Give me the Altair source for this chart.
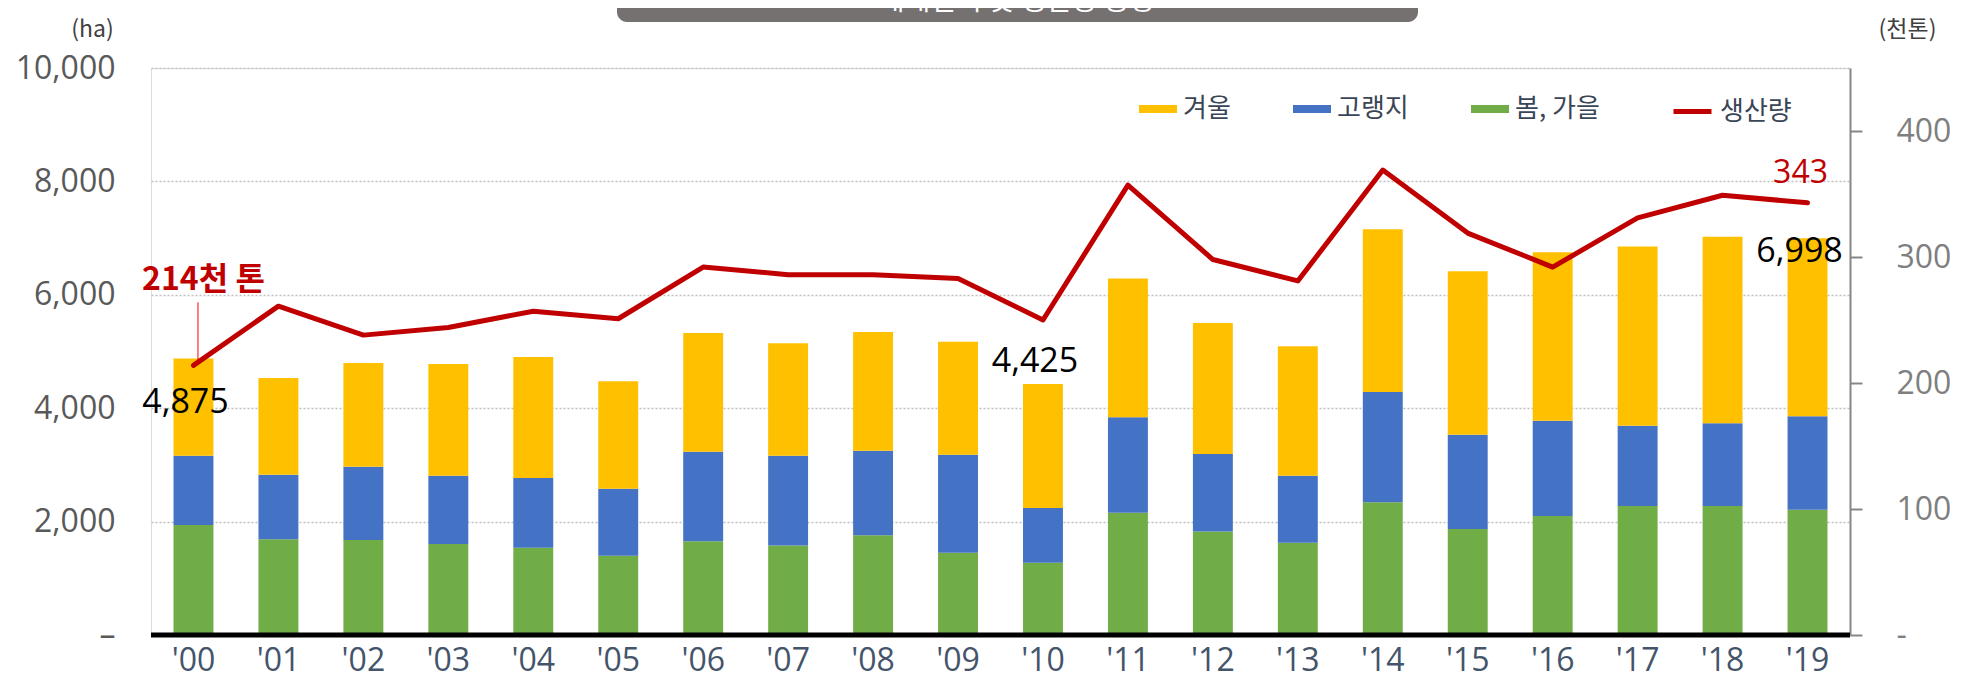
import altair as alt
import pandas as pd

# ---------------- data ----------------
years = ["'00", "'01", "'02", "'03", "'04", "'05", "'06", "'07", "'08", "'09",
         "'10", "'11", "'12", "'13", "'14", "'15", "'16", "'17", "'18", "'19"]
spring_fall = [1941, 1689, 1677, 1607, 1537, 1396, 1654, 1578, 1760, 1449,
               1273, 2158, 1824, 1625, 2340, 1871, 2100, 2276, 2276, 2211]
highland = [1220, 1138, 1291, 1202, 1231, 1185, 1578, 1583, 1489, 1730,
            967, 1684, 1367, 1184, 1947, 1660, 1677, 1413, 1460, 1648]
winter = [1714, 1707, 1830, 1971, 2135, 1894, 2093, 1983, 2094, 1994,
          2185, 2445, 2310, 2282, 2868, 2885, 2974, 3161, 3290, 3139]
production = [214, 261, 238, 244, 257, 251, 292, 286, 286, 283,
              250, 357, 298, 281, 369, 319, 292, 331, 349, 343]

series_names = ["겨울", "고랭지", "봄, 가을"]
series_colors = ["#FFC000", "#4472C4", "#70AD47"]
line_name = "생산량"
title_text = "재배면적 및 생산량 동향"

rows = []
for i, yr in enumerate(years):
    rows.append({"year": yr, "type": "봄, 가을", "area": spring_fall[i], "ord": 0})
    rows.append({"year": yr, "type": "고랭지", "area": highland[i], "ord": 1})
    rows.append({"year": yr, "type": "겨울", "area": winter[i], "ord": 2})
bars_df = pd.DataFrame(rows)
totals = [a + b + c for a, b, c in zip(spring_fall, highland, winter)]
tot_df = pd.DataFrame({"year": years, "total": totals})
line_df = pd.DataFrame({"year": years, "prod": production, "series": line_name})
one = pd.DataFrame({"k": [0]})

KR = "Noto Sans CJK KR"
NUM = "Open Sans"

left_y = alt.Scale(domain=[0, 10000])
right_y = alt.Scale(domain=[0, 450])

x_enc = alt.X(
    "year:N", sort=years, title=None,
    scale=alt.Scale(paddingInner=0.53, paddingOuter=0.265),
    axis=alt.Axis(labelFont=NUM, labelFontSize=32, labelColor="#44546A", labelPadding=10,
                  labelAngle=0, domain=False, ticks=False, grid=False),
)

left_axis = alt.Axis(
    values=[0, 2000, 4000, 6000, 8000, 10000],
    labelExpr="datum.value == 0 ? '–' : format(datum.value, ',')",
    labelFont=NUM, labelFontSize=32, labelColor="#595959", labelPadding=36,
    domain=False, ticks=False, grid=True, gridDash=[2, 2],
    gridColor="#BFBFBF", gridWidth=1.5,
    title="(ha)", titleAngle=0, titleX=-59, titleY=-39,
    titleAlign="center", titleBaseline="middle", titleFont=KR,
    titleFontSize=23, titleFontWeight="normal", titleColor="#404040",
)

right_axis = alt.Axis(
    orient="right", values=[0, 100, 200, 300, 400],
    labelExpr="datum.value == 0 ? '-' : format(datum.value, ',')",
    labelFont=NUM, labelFontSize=32, labelColor="#7F7F7F", labelPadding=34,
    domain=True, domainColor="#868686", domainWidth=2,
    ticks=True, tickColor="#868686", tickWidth=2, tickSize=12, grid=False,
    title="(천톤)", titleAngle=0, titleX=57, titleY=-39,
    titleAlign="center", titleBaseline="middle", titleFont=KR,
    titleFontSize=23, titleFontWeight="normal", titleColor="#404040",
)

# ---------------- left (area) group ----------------
title_box = alt.Chart(one).mark_rect(color="#767171", cornerRadius=10).encode(
    x=alt.value(466), x2=alt.value(1267), y=alt.value(-100), y2=alt.value(-46)
)
title_lbl = alt.Chart(one).mark_text(
    text=title_text, font=KR, fontSize=28, color="white", align="center", baseline="alphabetic"
).encode(x=alt.value(866), y=alt.value(-58))

bars = alt.Chart(bars_df).mark_bar().encode(
    x=x_enc,
    y=alt.Y("area:Q", stack="zero", scale=left_y, axis=left_axis),
    color=alt.Color("type:N", scale=alt.Scale(domain=series_names, range=series_colors),
                    legend=alt.Legend(orient="none", legendX=988, legendY=22, direction="horizontal",
                                      title=None, symbolType="M-1,-0.21H1V0.21H-1Z", symbolSize=1444,
                                      symbolStrokeWidth=0, labelFont=KR, labelFontSize=26,
                                      labelColor="#3A4556", labelOffset=6, columnPadding=62, padding=0)),
    order=alt.Order("ord:Q", sort="ascending"),
)

baseline = alt.Chart(one).mark_rule(color="black", strokeWidth=5).encode(
    y=alt.Y(datum=0, scale=left_y, axis=left_axis)
)


def total_label(yr, dx, dy):
    return alt.Chart(tot_df).transform_filter(alt.datum.year == yr).mark_text(
        font=NUM, fontSize=34, color="black", dx=dx, dy=dy, align="center", baseline="alphabetic"
    ).encode(
        x=x_enc,
        y=alt.Y("total:Q", scale=left_y, axis=left_axis),
        text=alt.Text("total:Q", format=","),
    )


left = alt.layer(
    title_box, title_lbl, bars, baseline,
    total_label("'00", -8, 54), total_label("'10", -8, -12), total_label("'19", -8, 24),
)

# ---------------- right (production) group ----------------
line = alt.Chart(line_df).mark_line(strokeWidth=5, strokeCap="round", strokeJoin="round").encode(
    x=x_enc,
    y=alt.Y("prod:Q", scale=right_y, axis=right_axis),
    stroke=alt.Stroke("series:N", scale=alt.Scale(domain=[line_name], range=["#C00000"]),
                      legend=alt.Legend(orient="none", legendX=1520, legendY=22, title=None,
                                        symbolType="stroke", symbolSize=1444, symbolStrokeWidth=5,
                                        labelFont=KR, labelFontSize=26, labelColor="#3A4556",
                                        labelOffset=6, padding=0)),
)

first_lbl = alt.Chart(line_df).transform_filter(alt.datum.year == years[0]).transform_calculate(
    lbl="datum.prod + '천 톤'"
).mark_text(font=KR, fontSize=32, fontWeight="bold", color="#C00000", dx=10, dy=-75,
            align="center", baseline="alphabetic").encode(
    x=x_enc, y=alt.Y("prod:Q", scale=right_y, axis=right_axis), text="lbl:N"
)

leader = alt.Chart(line_df).transform_filter(alt.datum.year == years[0]).transform_calculate(
    lo="datum.prod + 4", hi="datum.prod + 50"
).mark_rule(color="#FF0000", strokeWidth=1, xOffset=4.5).encode(
    x=x_enc, y=alt.Y("lo:Q", scale=right_y, axis=right_axis), y2="hi:Q"
)

last_lbl = alt.Chart(line_df).transform_filter(alt.datum.year == years[-1]).mark_text(
    font=NUM, fontSize=32, color="#C00000", dx=-7, dy=-20, align="center", baseline="alphabetic"
).encode(x=x_enc, y=alt.Y("prod:Q", scale=right_y, axis=right_axis), text="prod:Q")

right = alt.layer(leader, line, first_lbl, last_lbl)

chart = alt.layer(left, right).resolve_scale(y="independent").properties(
    width=1699, height=567,
    padding={"left": 143, "top": 60, "right": 100, "bottom": 44},
    autosize=alt.AutoSizeParams(type="none"),
).configure_view(strokeWidth=0).configure(font=NUM)

chart.save("out.html", embed_options={"renderer": "svg", "actions": False})
